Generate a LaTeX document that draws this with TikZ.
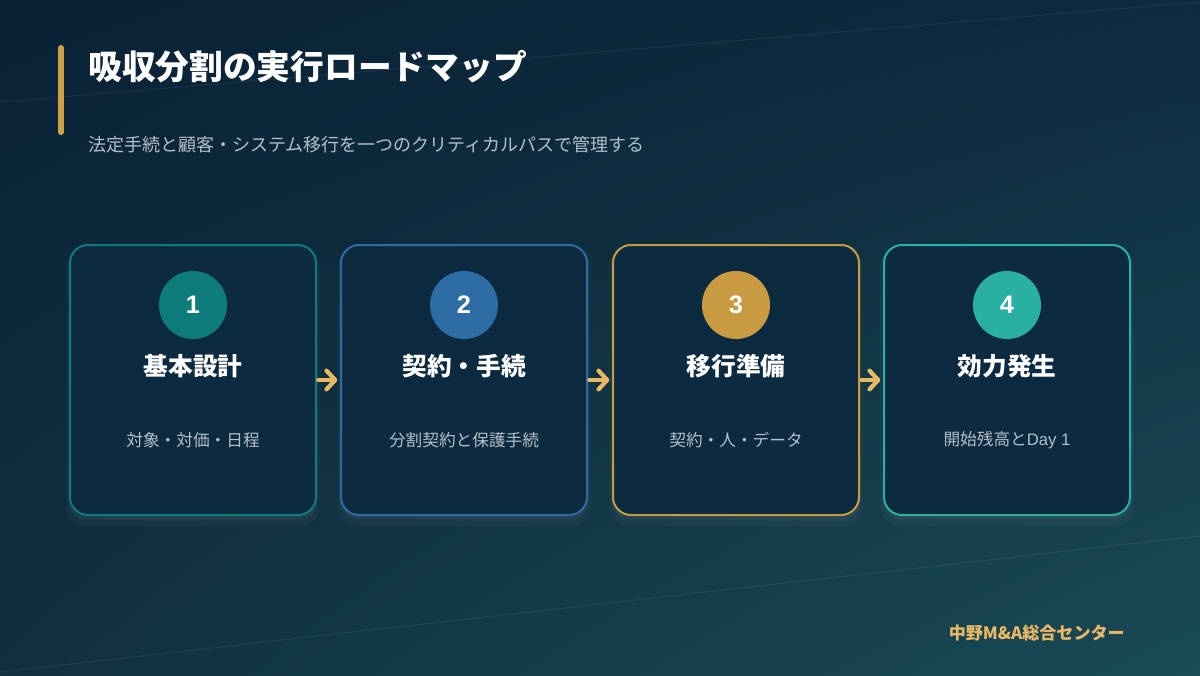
\documentclass[tikz,border=0pt]{standalone}
\usepackage{fontspec}
\setmainfont{Noto Sans CJK JP}
\newfontfamily\digitfont{Liberation Sans}
\usetikzlibrary{arrows.meta,shadows,shadings}

\definecolor{bgtl}{HTML}{0A2135}
\definecolor{bgtr}{HTML}{0C2B3F}
\definecolor{bgbl}{HTML}{0F3041}
\definecolor{bgbr}{HTML}{1A4B56}
\definecolor{cardfill}{HTML}{0C2A40}
\definecolor{tealdark}{HTML}{0E7C7B}
\definecolor{bluemid}{HTML}{2E6DA3}
\definecolor{goldmid}{HTML}{C99B40}
\definecolor{teallight}{HTML}{2AB0A2}
\definecolor{goldarrow}{HTML}{E8B864}
\definecolor{greytext}{HTML}{B4C0C8}

\begin{document}
\begin{tikzpicture}[x=0.75pt,y=-0.75pt,
    card/.style={draw, line width=1.5pt, rounded corners=13.5pt, fill=cardfill,
        minimum width=184.5pt, minimum height=202.5pt,
        drop shadow={opacity=0.08, shadow xshift=0pt, shadow yshift=-5pt, shadow scale=1.03},
        drop shadow={opacity=0.1, shadow xshift=0pt, shadow yshift=-2.5pt, shadow scale=1.01}},
    numdot/.style={circle, minimum size=51pt, inner sep=0pt, text=white, font=\digitfont\bfseries\fontsize{19}{19}\selectfont},
    heading/.style={text=white, font=\bfseries\fontsize{18.5}{18.5}\selectfont},
    desc/.style={text=greytext, font=\fontsize{12.5}{12.5}\selectfont},
    stepArrow/.style={draw=goldarrow, line width=3.2pt, line cap=round,
        -{Straight Barb[round, length=6.5pt, width=14pt]}, shorten <=1pt, shorten >=2pt}]
    \useasboundingbox (0,0) rectangle (1200,675);
    \shade[upper left=bgtl, upper right=bgtr, lower left=bgbl, lower right=bgbr] (0,0) rectangle (1200,675);
    \draw[white, opacity=0.06, line width=1pt] (0,102) -- (1200,2); % faint upper line
    \draw[white, opacity=0.06, line width=1pt] (0,672) -- (1200,536); % faint lower line

    % title block
    \draw[goldmid!80!goldarrow, line width=4.5pt, line cap=round] (61,48) -- (61,132);
    \node[anchor=west, inner sep=0pt, text=white, font=\bfseries\fontsize{25.3}{25.3}\selectfont] (title) at (88,67) {吸収分割の実行ロードマップ};
    \node[anchor=west, inner sep=0pt, text=greytext, font=\fontsize{13.5}{13.5}\selectfont] (subtitle) at (88,145) {法定手続と顧客・システム移行を一つのクリティカルパスで管理する};

    % cards
    \node[card, draw=tealdark] (card1) at (193,380) {};
    \node[card, draw=bluemid] (card2) at (464,380) {};
    \node[card, draw=goldmid] (card3) at (736,380) {};
    \node[card, draw=teallight] (card4) at (1007,380) {};

    \node[numdot, fill=tealdark] (num1) at (193,305) {1};
    \node[numdot, fill=bluemid] (num2) at (464,305) {2};
    \node[numdot, fill=goldmid] (num3) at (736,305) {3};
    \node[numdot, fill=teallight] (num4) at (1007,305) {4};

    \node[heading] (head1) at (193,366) {基本設計};
    \node[heading] (head2) at (464,366) {契約・手続};
    \node[heading] (head3) at (736,366) {移行準備};
    \node[heading] (head4) at (1007,366) {効力発生};

    \node[desc] (desc1) at (193,440) {対象・対価・日程};
    \node[desc] (desc2) at (464,440) {分割契約と保護手続};
    \node[desc] (desc3) at (736,440) {契約・人・データ};
    \node[desc] (desc4) at (1007,440) {開始残高と{\digitfont Day 1}};

    % arrows between steps
    \draw[stepArrow] (card1.east) -- (card2.west);
    \draw[stepArrow] (card2.east) -- (card3.west);
    \draw[stepArrow] (card3.east) -- (card4.west);

    \node[anchor=east, inner sep=0pt, text=goldarrow, font=\bfseries\fontsize{12.8}{12.8}\selectfont] (footer) at (1125,633) {中野M\&A総合センター};
\end{tikzpicture}
\end{document}
